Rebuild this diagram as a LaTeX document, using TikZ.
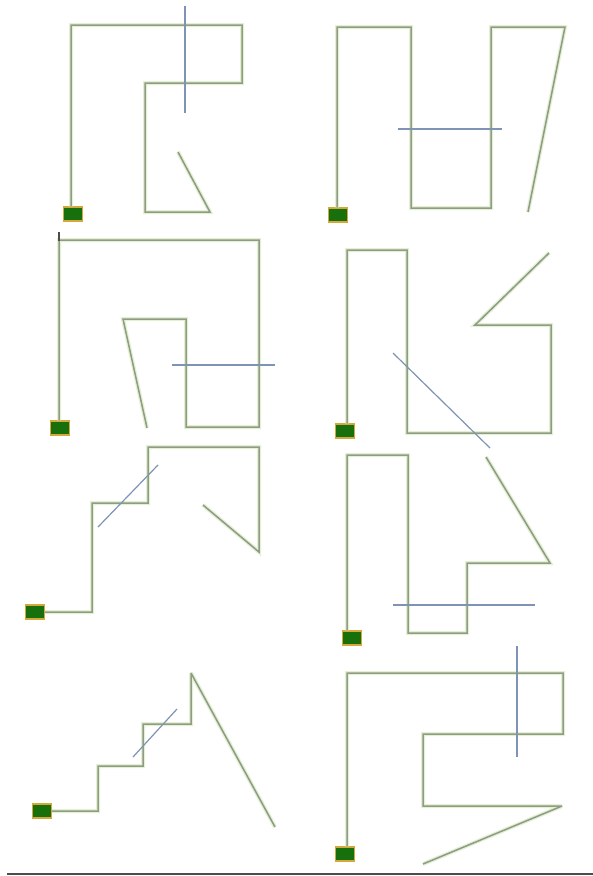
\documentclass[tikz,border=0pt]{standalone}
\begin{document}
\begin{tikzpicture}[x=1pt,y=-1pt,
  wire/.style={draw=wirec, line width=1.5pt, line join=miter, miter limit=4, preaction={draw=haloc, line width=4pt, miter limit=4}},
  cut/.style={draw=cutc, line width=1.2pt},
  src/.style={draw=srcb, fill=srcf, line width=1.2pt, minimum width=19pt, minimum height=14pt, inner sep=0pt, rectangle}]
\definecolor{wirec}{HTML}{8E9C84}
\definecolor{haloc}{HTML}{E4F0D4}
\definecolor{cutc}{HTML}{7F93B5}
\definecolor{srcb}{HTML}{D4A83A}
\definecolor{srcf}{HTML}{18700C}
\useasboundingbox (0,0) rectangle (593,876);
\fill[white] (0,0) rectangle (593,876);

% panel 1
\node[src] (s1) at (73,214) {};
\draw[wire] (s1.north -| 71,0) -- (71,25) -- (242,25) -- (242,83) -- (145,83) -- (145,212) -- (210,212) -- (178,152);
\draw[cut] (185,6) -- (185,113);

% panel 2
\node[src] (s2) at (338,215) {};
\draw[wire] (s2.north -| 337,0) -- (337,27) -- (411,27) -- (411,208) -- (491,208) -- (491,27) -- (565,27) -- (528,212);
\draw[cut] (398,129) -- (502,129);

% panel 3
\node[src] (s3) at (60,428) {};
\draw[wire] (s3.north -| 59,0) -- (59,240) -- (259,240) -- (259,427) -- (186,427) -- (186,319) -- (123,319) -- (147,428);
\draw[draw=black!70, line width=1.2pt] (59,241) -- (59,232);
\draw[cut] (172,365) -- (275,365);

% panel 4
\node[src] (s4) at (345,431) {};
\draw[wire] (s4.north -| 347,0) -- (347,250) -- (407,250) -- (407,433) -- (551,433) -- (551,325) -- (475,325) -- (549,253);
\draw[cut] (393,353) -- (490,448);

% panel 5
\node[src] (s5) at (35,612) {};
\draw[wire] (s5.east) -- (92,612) -- (92,503) -- (148,503) -- (148,447) -- (259,447) -- (259,552) -- (203,505);
\draw[cut] (98,527) -- (158,465);

% panel 6
\node[src] (s6) at (352,638) {};
\draw[wire] (s6.north -| 347,0) -- (347,455) -- (408,455) -- (408,633) -- (467,633) -- (467,563) -- (550,563) -- (486,457);
\draw[cut] (393,605) -- (535,605);

% panel 7
\node[src] (s7) at (42,811) {};
\draw[wire] (s7.east) -- (98,811) -- (98,766) -- (143,766) -- (143,724) -- (191,724) -- (191,673) -- (275,827);
\draw[cut] (133,757) -- (177,709);

% panel 8
\node[src] (s8) at (345,854) {};
\draw[wire] (s8.north -| 347,0) -- (347,673) -- (563,673) -- (563,734) -- (423,734) -- (423,806) -- (562,806) -- (423,864);
\draw[cut] (517,646) -- (517,757);

% bottom rule
\coordinate (r0) at (7,874);
\coordinate (r1) at (593,874);
\draw[draw=black!70, line width=2pt] (r0) -- (r1);
\end{tikzpicture}
\end{document}
